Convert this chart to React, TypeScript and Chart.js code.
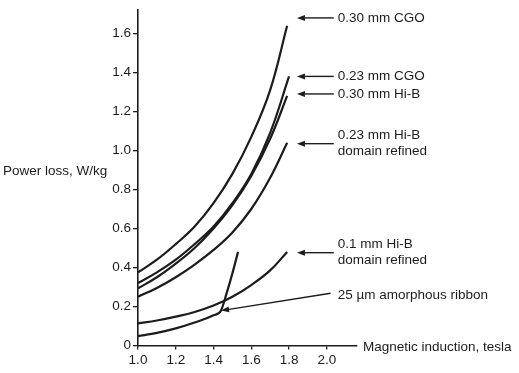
import React, { useEffect, useRef } from "react";
import { Chart, registerables } from "chart.js";

Chart.register(...registerables);

// ---- Data ----
const cgo30B = [1.0, 1.1, 1.2, 1.3, 1.4, 1.5, 1.6, 1.7, 1.79];
const cgo30P = [0.375, 0.44, 0.52, 0.61, 0.73, 0.88, 1.07, 1.31, 1.64];

const cgo23B = [1.0, 1.1, 1.2, 1.3, 1.4, 1.5, 1.6, 1.7, 1.8];
const cgo23P = [0.32, 0.375, 0.44, 0.52, 0.61, 0.73, 0.88, 1.09, 1.38];

const hib30B = [1.0, 1.1, 1.2, 1.3, 1.4, 1.5, 1.6, 1.7, 1.79];
const hib30P = [0.293, 0.35, 0.42, 0.5, 0.6, 0.72, 0.87, 1.06, 1.28];

const hib23B = [1.0, 1.1, 1.2, 1.3, 1.4, 1.5, 1.6, 1.7, 1.79];
const hib23P = [0.25, 0.295, 0.35, 0.415, 0.49, 0.58, 0.7, 0.86, 1.04];

const hib01B = [1.0, 1.1, 1.2, 1.3, 1.4, 1.5, 1.6, 1.7, 1.79];
const hib01P = [0.113, 0.128, 0.148, 0.172, 0.205, 0.25, 0.31, 0.385, 0.48];

const amorphB = [1.0, 1.1, 1.2, 1.3, 1.4, 1.44, 1.47, 1.5, 1.53];
const amorphP = [0.048, 0.065, 0.088, 0.118, 0.155, 0.18, 0.27, 0.37, 0.48];

const xTicks = [1.0, 1.2, 1.4, 1.6, 1.8, 2.0];
const xTickLabels = ["1.0", "1.2", "1.4", "1.6", "1.8", "2.0"];
const yTicks = [0, 0.2, 0.4, 0.6, 0.8, 1.0, 1.2, 1.4, 1.6];
const yTickLabels = ["0", "0.2", "0.4", "0.6", "0.8", "1.0", "1.2", "1.4", "1.6"];

const labelLines = [
  ["0.30 mm CGO"],
  ["0.23 mm CGO"],
  ["0.30 mm Hi-B"],
  ["0.23 mm Hi-B", "domain refined"],
  ["0.1 mm Hi-B", "domain refined"],
];
const labelArrowP = [1.68, 1.38, 1.29, 1.035, 0.476];

const amorphLabel = "25 \u00b5m amorphous ribbon";
const amorphTipB = 1.44;
const amorphTipP = 0.179;
const amorphTailB = 2.02;
const amorphTailP = 0.268;

const xTitle = "Magnetic induction, tesla";
const yTitle = "Power loss, W/kg";

// ---- Styles ----
const INK = "#1c1c1c";
const FONT_FAMILY = "'Liberation Sans', Arial, Helvetica, sans-serif";
const FONT_SIZE = 13.5;

function pts(b: number[], p: number[]) {
  return b.map((x, i) => ({ x, y: p[i] }));
}

function drawArrow(ctx: CanvasRenderingContext2D, x1: number, y1: number, x2: number, y2: number) {
  const ang = Math.atan2(y2 - y1, x2 - x1);
  const hl = 8;
  const hw = 3;
  const bx = x2 - hl * Math.cos(ang);
  const by = y2 - hl * Math.sin(ang);
  ctx.beginPath();
  ctx.moveTo(x1, y1);
  ctx.lineTo(bx, by);
  ctx.lineWidth = 1.4;
  ctx.stroke();
  ctx.beginPath();
  ctx.moveTo(x2, y2);
  ctx.lineTo(bx - hw * Math.sin(ang), by + hw * Math.cos(ang));
  ctx.lineTo(bx + hw * Math.sin(ang), by - hw * Math.cos(ang));
  ctx.closePath();
  ctx.fill();
}

const annotPlugin = {
  id: "annot",
  afterDraw(chart: any) {
    const ctx: CanvasRenderingContext2D = chart.ctx;
    const xs = chart.scales.x;
    const ys = chart.scales.y;
    ctx.save();
    ctx.fillStyle = INK;
    ctx.strokeStyle = INK;
    ctx.font = `${FONT_SIZE}px ${FONT_FAMILY}`;
    ctx.textBaseline = "middle";
    ctx.textAlign = "left";

    const tipX = xs.getPixelForValue(1.842);
    const tailX = xs.getPixelForValue(2.037);
    const textX = xs.getPixelForValue(2.058);
    const lineGap = 16;

    labelLines.forEach((lines, i) => {
      const y = ys.getPixelForValue(labelArrowP[i]);
      drawArrow(ctx, tailX, y, tipX, y);
      const n = lines.length;
      lines.forEach((t, j) => {
        const ty = y + (j - (n - 1) / 2) * lineGap;
        ctx.fillText(t, textX, ty);
      });
    });

    // amorphous
    const ax1 = xs.getPixelForValue(amorphTailB);
    const ay1 = ys.getPixelForValue(amorphTailP);
    const ax2 = xs.getPixelForValue(amorphTipB);
    const ay2 = ys.getPixelForValue(amorphTipP);
    drawArrow(ctx, ax1, ay1, ax2, ay2);
    ctx.fillText(amorphLabel, textX, ay1 + 2.5);

    // axis titles
    ctx.fillText(xTitle, chart.chartArea.right + 6, chart.chartArea.bottom + 2);
    ctx.fillText(yTitle, 3, 171);
    ctx.restore();
  },
};

export default function App() {
  const ref = useRef<HTMLCanvasElement | null>(null);

  useEffect(() => {
    if (!ref.current) return;
    const ds = (b: number[], p: number[], smooth: boolean) => ({
      data: pts(b, p),
      showLine: true,
      borderColor: INK,
      borderWidth: 2.2,
      pointRadius: 0,
      tension: smooth ? 0.4 : 0,
      cubicInterpolationMode: smooth ? ("default" as const) : ("monotone" as const),
      fill: false,
    });
    const chart = new Chart(ref.current, {
      type: "scatter",
      data: {
        datasets: [
          ds(cgo30B, cgo30P, true),
          ds(cgo23B, cgo23P, true),
          ds(hib30B, hib30P, true),
          ds(hib23B, hib23P, true),
          ds(hib01B, hib01P, true),
          ds(amorphB, amorphP, false),
        ],
      },
      options: {
        responsive: false,
        animation: false,
        events: [],
        layout: { padding: { top: 9, right: 162, left: 0, bottom: 0 } },
        plugins: { legend: { display: false }, tooltip: { enabled: false } },
        scales: {
          x: {
            type: "linear",
            min: 1.0,
            max: 2.16,
            afterBuildTicks: (s: any) => {
              s.ticks = xTicks.map((v) => ({ value: v }));
            },
            afterFit: (s: any) => {
              s.height = 27.5;
            },
            ticks: {
              callback: (_v: any, i: number) => xTickLabels[i],
              color: INK,
              font: { size: FONT_SIZE, family: FONT_FAMILY },
              padding: 3,
              maxRotation: 0,
              autoSkip: false,
            },
            grid: { drawOnChartArea: false, color: INK, tickLength: 4, lineWidth: 1.3 },
            border: { color: INK, width: 1.6 },
          },
          y: {
            type: "linear",
            min: 0,
            max: 1.72,
            afterBuildTicks: (s: any) => {
              s.ticks = yTicks.map((v) => ({ value: v }));
            },
            afterFit: (s: any) => {
              s.width = 138;
            },
            ticks: {
              callback: (_v: any, i: number) => yTickLabels[i],
              color: INK,
              font: { size: FONT_SIZE, family: FONT_FAMILY },
              padding: 2,
              autoSkip: false,
            },
            grid: { drawOnChartArea: false, color: INK, tickLength: 5, lineWidth: 1.3 },
            border: { color: INK, width: 1.6 },
          },
        },
      },
      plugins: [annotPlugin],
    });
    return () => chart.destroy();
  }, []);

  return (
    <div style={{ position: "absolute", left: 0, top: 0, width: 519, height: 373, background: "#fff" }}>
      <canvas ref={ref} width={519} height={373} style={{ width: 519, height: 373, display: "block" }} />
    </div>
  );
}
